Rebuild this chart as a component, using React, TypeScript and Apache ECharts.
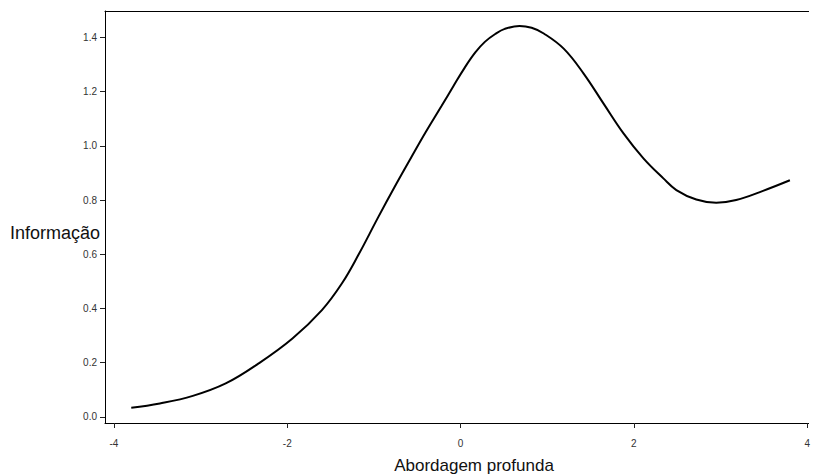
import React, { useEffect, useRef } from "react";
import * as echarts from "echarts";

const xValues = [-3.80, -3.47, -3.09, -2.71, -2.33, -1.94, -1.60, -1.37, -1.18, -0.95, -0.76, -0.57, -0.40, -0.22, -0.08, 0.05, 0.17, 0.28, 0.40, 0.51, 0.68, 0.82, 0.96, 1.19, 1.42, 1.65, 1.88, 2.11, 2.34, 2.49, 2.72, 2.95, 3.18, 3.49, 3.80];
const yValues = [0.033, 0.049, 0.077, 0.123, 0.197, 0.289, 0.394, 0.492, 0.597, 0.737, 0.849, 0.957, 1.052, 1.147, 1.222, 1.290, 1.345, 1.384, 1.413, 1.432, 1.443, 1.436, 1.415, 1.359, 1.267, 1.156, 1.046, 0.954, 0.880, 0.837, 0.802, 0.790, 0.800, 0.834, 0.873];
const xTicks = [-4, -2, 0, 2, 4];
const yTicks = [0, 0.2, 0.4, 0.6, 0.8, 1.0, 1.2, 1.4];
const xTitle = "Abordagem profunda";
const yTitle = "Informação";

const FONT = "'Liberation Sans', Arial, Helvetica, sans-serif";
const X_MIN = -4.103;
const X_MAX = 4.016;

export default function App() {
  const ref = useRef<HTMLDivElement>(null);
  useEffect(() => {
    if (!ref.current) return;
    const chart = echarts.init(ref.current, null, { renderer: "svg" });
    const data = xValues.map((x, i) => [x, yValues[i]]);
    chart.setOption({
      animation: false,
      backgroundColor: "#ffffff",
      grid: {
        left: 105,
        top: 11,
        right: 0,
        bottom: 53,
        show: false,
      },
      xAxis: [
        {
          type: "value",
          min: X_MIN,
          max: X_MAX,
          splitLine: { show: false },
          axisLine: { show: true, onZero: false, lineStyle: { color: "#000", width: 1 } },
          axisTick: { show: true, customValues: xTicks, length: 5, lineStyle: { color: "#222" } },
          axisLabel: {
            customValues: xTicks,
            margin: 15,
            fontSize: 10,
            color: "#333",
            fontFamily: FONT,
            formatter: (v: number) => String(v),
          },
        },
        {
          type: "value",
          position: "top",
          min: X_MIN,
          max: X_MAX,
          splitLine: { show: false },
          axisLine: { show: true, onZero: false, lineStyle: { color: "#000", width: 1 } },
          axisTick: { show: false },
          axisLabel: { show: false },
        },
      ],
      yAxis: {
        type: "value",
        min: -0.023,
        max: 1.498,
        splitLine: { show: false },
        axisLine: { show: true, onZero: false, lineStyle: { color: "#000", width: 1 } },
        axisTick: { show: true, customValues: yTicks, length: 5, lineStyle: { color: "#222" } },
        axisLabel: {
          customValues: yTicks,
          margin: 8,
          fontSize: 10,
          color: "#333",
          fontFamily: FONT,
          padding: [0, 0, 4, 0],
          formatter: (v: number) => v.toFixed(1),
        },
      },
      series: [
        {
          type: "line",
          data,
          smooth: 0.4,
          showSymbol: false,
          symbol: "none",
          lineStyle: { color: "#000", width: 2 },
        },
      ],
      graphic: [
        {
          type: "text",
          x: 10,
          y: 233,
          style: {
            text: yTitle,
            align: "left",
            verticalAlign: "middle",
            fontSize: 18,
            fontFamily: FONT,
            fill: "#111",
          },
        },
        {
          type: "text",
          x: 474,
          y: 465,
          style: {
            text: xTitle,
            align: "center",
            verticalAlign: "middle",
            fontSize: 17,
            fontFamily: FONT,
            fill: "#111",
          },
        },
      ],
    });
    return () => chart.dispose();
  }, []);
  return (
    <div
      ref={ref}
      style={{ position: "fixed", left: 0, top: 0, width: 813, height: 476 }}
    />
  );
}
